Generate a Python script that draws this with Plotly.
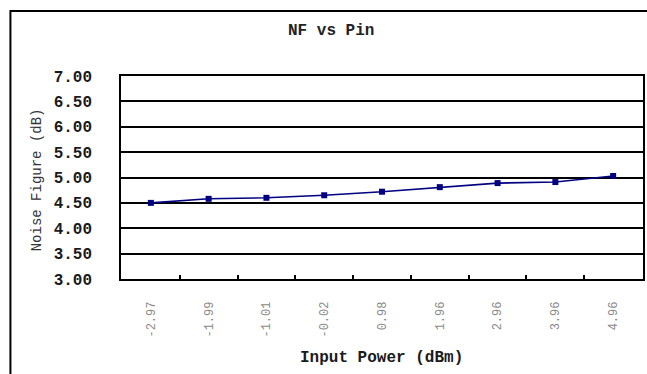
import plotly.graph_objects as go

# Data
input_power_labels = ["-2.97", "-1.99", "-1.01", "-0.02", "0.98", "1.96", "2.96", "3.96", "4.96"]
noise_figure = [4.50, 4.58, 4.60, 4.65, 4.72, 4.81, 4.89, 4.91, 5.03]
y_ticks = [3.0, 3.5, 4.0, 4.5, 5.0, 5.5, 6.0, 6.5, 7.0]

W, H = 647, 374
L, R, T, B = 121, 645, 76, 279
pw, ph = R - L, B - T

def px(x):
    return (x - L) / pw

def py(y):
    return (B - y) / ph

MONO = "Liberation Mono, Courier New, monospace"

fig = go.Figure()
fig.add_trace(go.Scatter(
    x=input_power_labels, y=noise_figure, mode="lines+markers",
    line=dict(color="#000080", width=1.6),
    marker=dict(symbol="square", size=6, color="#000080"),
    showlegend=False,
))

fig.update_layout(
    width=W, height=H,
    margin=dict(l=L, r=W - R, t=T, b=H - B, pad=0),
    paper_bgcolor="white", plot_bgcolor="white",
    xaxis=dict(
        type="category", tickangle=-90,
        tickfont=dict(family=MONO, size=12, color="#8a8a8a"),
        ticks="inside", tickson="boundaries", ticklen=4, tickcolor="black", tickwidth=1.5,
        ticklabelstandoff=16,
        showgrid=False, showline=True, linecolor="black", linewidth=1.5, mirror=True,
        zeroline=False, fixedrange=True,
    ),
    yaxis=dict(
        range=[3, 7], tickvals=y_ticks, tickformat=".2f",
        tickfont=dict(family=MONO, size=16, color="#1a1a1a", weight="bold"),
        ticks="", ticklabelstandoff=24,
        showgrid=True, gridcolor="black", gridwidth=1.5,
        showline=True, linecolor="black", linewidth=1.5, mirror=True,
        zeroline=False, fixedrange=True,
    ),
    annotations=[
        dict(text="NF vs Pin", x=px(332), y=py(31), xref="paper", yref="paper",
             showarrow=False, xanchor="center", yanchor="middle",
             font=dict(family=MONO, size=16, color="#222222", weight="bold")),
        dict(text="Input Power (dBm)", x=px(382), y=py(358), xref="paper", yref="paper",
             showarrow=False, xanchor="center", yanchor="middle",
             font=dict(family=MONO, size=16, color="#1a1a1a", weight="bold")),
        dict(text="Noise Figure (dB)", x=px(37), y=py(180), xref="paper", yref="paper",
             showarrow=False, xanchor="center", yanchor="middle", textangle=-90,
             font=dict(family=MONO, size=14, color="#333333")),
    ],
    shapes=[
        dict(type="rect", xref="paper", yref="paper",
             x0=px(10), x1=px(680), y0=py(420), y1=py(11),
             line=dict(color="black", width=2), fillcolor="rgba(0,0,0,0)", layer="below"),
    ],
)

fig.write_html("out.html")
